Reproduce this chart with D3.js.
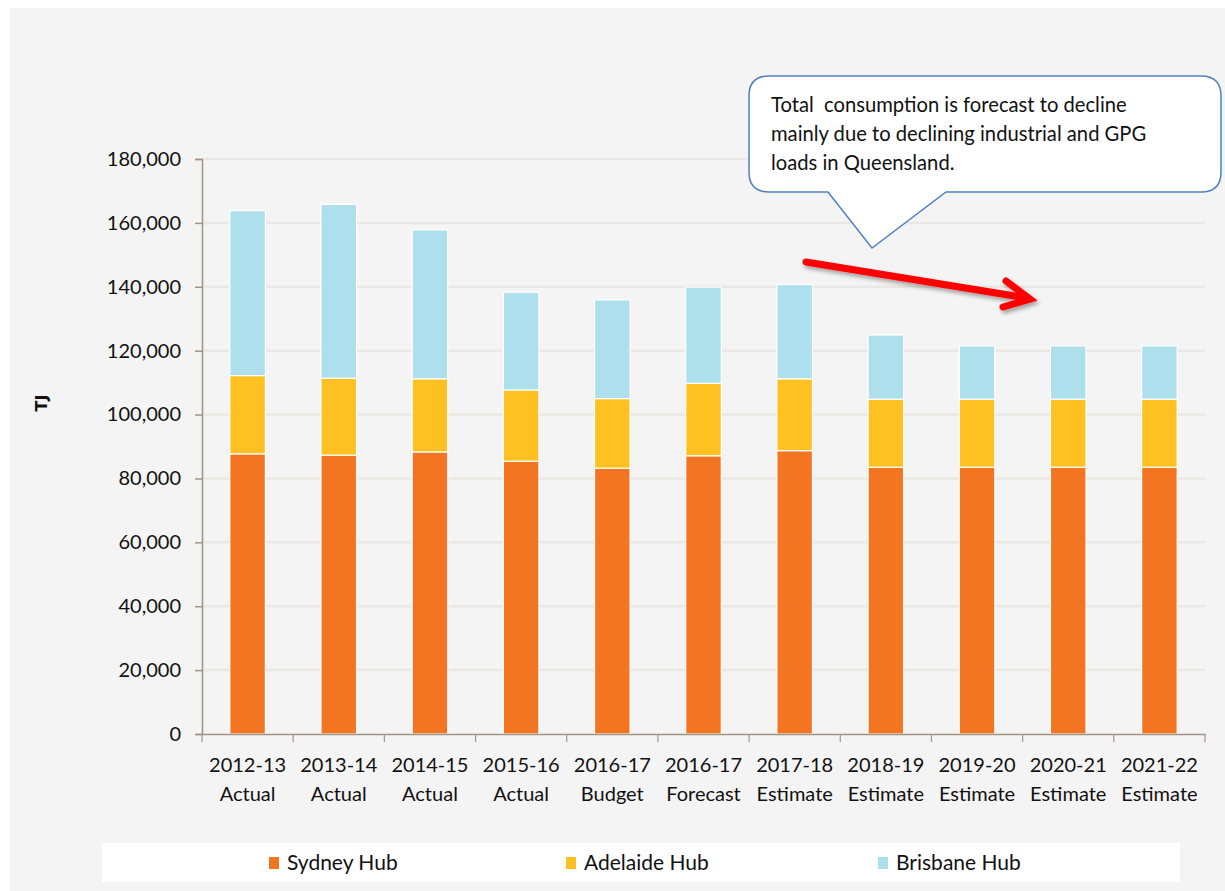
<!DOCTYPE html>
<html><head><meta charset="utf-8">
<script src="https://cdn.jsdelivr.net/npm/d3@7"></script>
<style>body{margin:0;background:#fff;}svg{display:block;}</style>
</head><body>
<svg id="chart" width="1225" height="891"></svg>
<script>
const categories = [["2012-13","Actual"],["2013-14","Actual"],["2014-15","Actual"],["2015-16","Actual"],["2016-17","Budget"],["2016-17","Forecast"],["2017-18","Estimate"],["2018-19","Estimate"],["2019-20","Estimate"],["2020-21","Estimate"],["2021-22","Estimate"]];
const sydney   = [87700, 87300, 88300, 85400, 83200, 87100, 88700, 83500, 83500, 83500, 83500];
const adelaide = [24500, 24100, 22900, 22300, 21800, 22700, 22500, 21300, 21300, 21300, 21300];
const brisbane = [51600, 54400, 46600, 30600, 30900, 30100, 29500, 20100, 16700, 16700, 16700];
const seriesNames = ["Sydney Hub","Adelaide Hub","Brisbane Hub"];
const seriesColors = ["#f47521","#ffc122","#addfed"];
const yTicks = [0,20000,40000,60000,80000,100000,120000,140000,160000,180000];
const calloutLines = ["Total  consumption is forecast to decline","mainly due to declining industrial and GPG","loads in Queensland."];

const svg = d3.select("#chart");
const FONT = "Lato, 'Open Sans', sans-serif";
svg.append("rect").attr("x",10).attr("y",8).attr("width",1215).attr("height",883).attr("fill","#f5f4f4");

const m = {left:202, right:1205, top:159, bottom:734};
const keys = categories.map((c,i)=>i);
const x = d3.scaleBand().domain(keys).range([m.left,m.right]).paddingInner(0.61).paddingOuter(0.305);
const y = d3.scaleLinear().domain([0,180000]).range([m.bottom,m.top]);

// gridlines
svg.append("g").selectAll("line").data(yTicks.filter(t=>t>0)).join("line")
  .attr("x1",m.left).attr("x2",m.right).attr("y1",d=>y(d)).attr("y2",d=>y(d))
  .attr("stroke","#ebe8e3").attr("stroke-width",2.5);

// stacked bars
const table = keys.map(i=>({i, s:sydney[i], a:adelaide[i], b:brisbane[i]}));
const stack = d3.stack().keys(["s","a","b"])(table);
svg.append("g").selectAll("g").data(stack).join("g").attr("fill",(d,k)=>seriesColors[k])
  .selectAll("rect").data(d=>d).join("rect")
  .attr("x",d=>x(d.data.i)).attr("width",x.bandwidth())
  .attr("y",d=>y(d[1])).attr("height",d=>y(d[0])-y(d[1]))
  .attr("stroke","#ffffff").attr("stroke-width",1.2);

// y axis
const yAxis = svg.append("g").attr("transform",`translate(${m.left},0)`)
  .call(d3.axisLeft(y).tickValues(yTicks).tickSize(7).tickPadding(14).tickFormat(d3.format(",")));
yAxis.select(".domain").attr("stroke","#a09585").attr("stroke-width",1.5);
yAxis.selectAll(".tick line").attr("stroke","#a09585").attr("stroke-width",1.5);
yAxis.selectAll("text").attr("font-family",FONT).attr("font-size",20).attr("fill","#111");

// x axis
const xAxis = svg.append("g").attr("transform",`translate(0,${m.bottom})`)
  .call(d3.axisBottom(x).tickSize(0).tickFormat(""));
xAxis.select(".domain").attr("stroke","#a09585").attr("stroke-width",1.5);
const bstep = x.step();
svg.append("g").selectAll("line").data(d3.range(categories.length+1)).join("line")
  .attr("x1",d=>m.left+d*bstep).attr("x2",d=>m.left+d*bstep)
  .attr("y1",m.bottom).attr("y2",m.bottom+8).attr("stroke","#a09585").attr("stroke-width",1.2);
const xl = svg.append("g").selectAll("text").data(keys).join("text")
  .attr("x",d=>x(d)+x.bandwidth()/2).attr("y",772)
  .attr("text-anchor","middle").attr("font-family",FONT).attr("font-size",20).attr("fill","#111");
xl.append("tspan").attr("x",d=>x(d)+x.bandwidth()/2).text(d=>categories[d][0]);
xl.append("tspan").attr("x",d=>x(d)+x.bandwidth()/2).attr("dy",29).text(d=>categories[d][1]);

// y title
svg.append("text").attr("transform","translate(47,403) rotate(-90)").attr("text-anchor","middle")
  .attr("font-family","'DejaVu Sans', sans-serif").attr("font-weight","bold").attr("font-size",16).attr("fill","#111").text("TJ");

// legend
svg.append("rect").attr("x",102).attr("y",843).attr("width",1078).attr("height",39).attr("fill","#ffffff");
const legX = [269,566,878];
const lg = svg.append("g").selectAll("g").data(seriesNames).join("g")
  .attr("transform",(d,i)=>`translate(${legX[i]},0)`);
lg.append("rect").attr("x",0).attr("y",857).attr("width",10).attr("height",12).attr("fill",(d,i)=>seriesColors[i]);
lg.append("text").attr("x",18).attr("y",870).attr("font-family",FONT).attr("font-size",21).attr("fill","#111").text(d=>d);

// callout
const cp = d3.path();
const bx0=749,bx1=1221,by0=76,by1=192,r=20;
cp.moveTo(bx0+r,by0); cp.lineTo(bx1-r,by0); cp.quadraticCurveTo(bx1,by0,bx1,by0+r);
cp.lineTo(bx1,by1-r); cp.quadraticCurveTo(bx1,by1,bx1-r,by1);
cp.lineTo(946,by1); cp.lineTo(872,248); cp.lineTo(828,by1);
cp.lineTo(bx0+r,by1); cp.quadraticCurveTo(bx0,by1,bx0,by1-r);
cp.lineTo(bx0,by0+r); cp.quadraticCurveTo(bx0,by0,bx0+r,by0); cp.closePath();
svg.append("path").attr("d",cp.toString()).attr("fill","#ffffff").attr("stroke","#4f81bd").attr("stroke-width",1.5);
svg.append("g").selectAll("text").data(calloutLines).join("text")
  .attr("x",771).attr("y",(d,i)=>112+i*29).attr("font-family",FONT).attr("font-size",20.2).attr("fill","#111")
  .attr("xml:space","preserve").style("white-space","pre").text(d=>d);

// red arrow
const defs = svg.append("defs");
const f = defs.append("filter").attr("id","sh").attr("x","-20%").attr("y","-50%").attr("width","140%").attr("height","200%");
f.append("feDropShadow").attr("dx",2).attr("dy",3).attr("stdDeviation",2).attr("flood-color","#000").attr("flood-opacity",0.35);
const ag = svg.append("g").attr("filter","url(#sh)");
ag.append("line").attr("x1",806).attr("y1",262).attr("x2",1027).attr("y2",298).attr("stroke","#ff0000").attr("stroke-width",7).attr("stroke-linecap","round");
ag.append("path").attr("d","M1006,281 L1030,299 L1003,307").attr("fill","none").attr("stroke","#ff0000").attr("stroke-width",7).attr("stroke-linecap","round").attr("stroke-linejoin","miter");
</script>
</body></html>
